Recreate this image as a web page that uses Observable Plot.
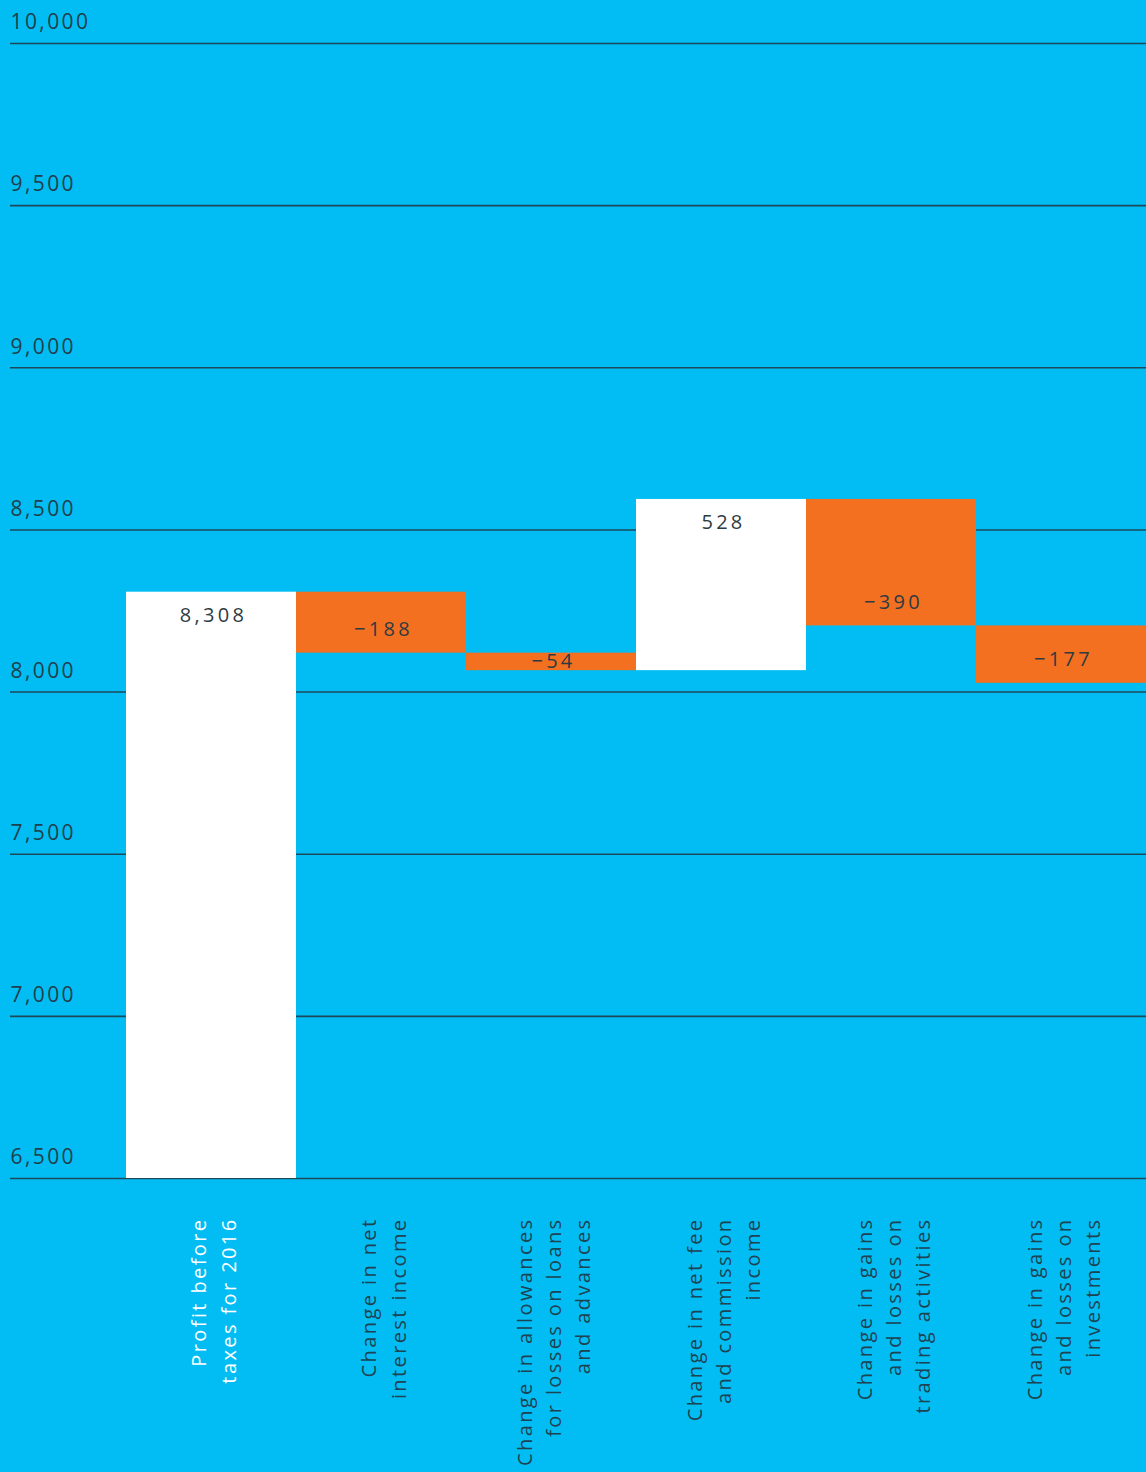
<!DOCTYPE html>
<html>
<head>
<meta charset="utf-8">
<script src="https://cdn.jsdelivr.net/npm/d3@7"></script>
<script src="https://cdn.jsdelivr.net/npm/@observablehq/plot@0.6"></script>
<style>
  html, body { margin: 0; padding: 0; background: #00BDF2; }
  #chart svg { display: block; }
</style>
</head>
<body>
<div id="chart"></div>
<script>
// Bridge from 2016 profit before taxes, in € million
const categories = ["profit2016", "netInterest", "allowances", "netFee", "trading", "investments"];
const categoryLabels = [
  "Profit before\ntaxes for 2016",
  "Change in net\ninterest income",
  "Change in allowances\nfor losses on loans\nand advances",
  "Change in net fee\nand commission\nincome",
  "Change in gains\nand losses on\ntrading activities",
  "Change in gains\nand losses on\ninvestments"
];
const values = [8308, -188, -54, 528, -390, -177];
const isTotal = [true, false, false, false, false, false];
const yTicks = [6500, 7000, 7500, 8000, 8500, 9000, 9500, 10000];
const yDomain = [6500, 10000];

const BLUE = "#02BDF3";
const ORANGE = "#F37021";
const GRID = "#1C4A5B";
const INK = "#2E3B42";
const fmt = d3.format(",");

// Running totals for the waterfall
let running = 0;
const steps = categories.map((key, i) => {
  const v = values[i];
  const start = isTotal[i] ? yDomain[0] : running;
  const end = isTotal[i] ? v : running + v;
  running = end;
  const size = isTotal[i] ? end - start : Math.abs(v);
  const sign = v < 0 ? -1 : 1;
  // value label sits inside the bar, near its far end (or centred when the bar is thin)
  const labelY = end - sign * Math.min(size / 2, 72);
  return {
    key, value: v, start, end, labelY,
    label: categoryLabels[i],
    fill: v < 0 ? ORANGE : "white",
    labelFill: i === 0 ? "white" : "#1E4352"
  };
});

const chart = Plot.plot({
  width: 1146,
  height: 1472,
  marginLeft: 10,
  marginRight: 0,
  marginTop: 0,
  marginBottom: 255,
  style: { background: BLUE, fontFamily: "'Open Sans', 'Noto Sans', sans-serif" },
  x: { type: "band", domain: categories, range: [125, 1146], padding: 0, axis: null },
  y: { domain: yDomain, range: [1178, 43], axis: null },
  color: { type: "identity" },
  marks: [
    Plot.ruleY(yTicks, { stroke: GRID, strokeWidth: 1.6 }),
    Plot.text(yTicks, {
      y: d => d, frameAnchor: "left", textAnchor: "start", dy: -21,
      text: d => fmt(d), fontSize: 21, fill: "#1F3F4D", fontWeight: 400
    }),
    Plot.barY(steps, { x: "key", y1: "start", y2: "end", fill: "fill" }),
    Plot.text(steps, {
      x: "key", y: "labelY", text: d => fmt(d.value),
      fontSize: 20, fill: INK, fontWeight: 400, dx: 2
    }),
    Plot.text(steps, {
      x: "key", frameAnchor: "bottom", rotate: -90, textAnchor: "end",
      lineAnchor: "middle", lineHeight: 1.47, text: "label",
      fontSize: 20, fill: "labelFill", fontWeight: 400
    })
  ]
});

// tracking for the three text layers: axis labels, value labels, category labels
const tracking = ["2.4px", "3.3px", "2.4px"];
d3.select(chart).selectAll('g[aria-label="text"]').each(function (_, i) {
  this.style.letterSpacing = tracking[i];
});

document.getElementById("chart").appendChild(chart);
</script>
</body>
</html>
